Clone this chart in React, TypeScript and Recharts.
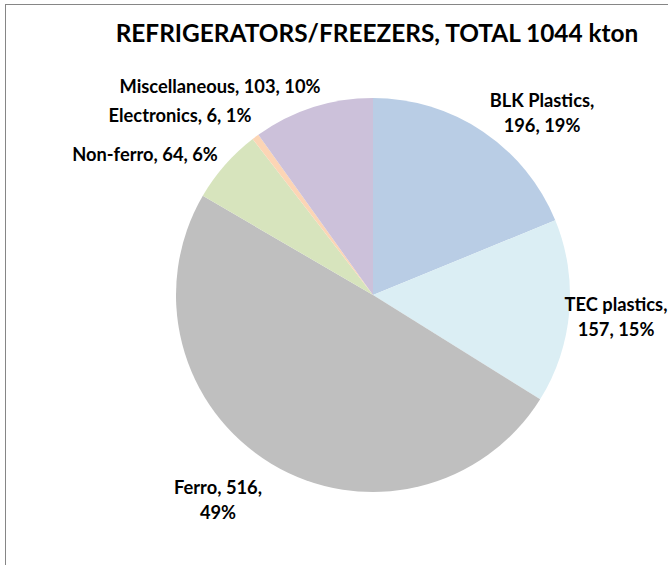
import { PieChart, Pie, Cell } from 'recharts';

const categories = ['BLK Plastics', 'TEC plastics', 'Ferro', 'Non-ferro', 'Electronics', 'Miscellaneous'];
const values = [196, 157, 516, 64, 6, 103];
const percents = ['19%', '15%', '49%', '6%', '1%', '10%'];
const colors = ['#b9cde5', '#dbeef4', '#bfbfbf', '#d7e4bd', '#fcd5b5', '#ccc1da'];

const data = categories.map((name, i) => ({ name, value: values[i], pct: percents[i] }));

// label placement relative to pie centre (Excel best-fit look)
const labelOffsets = [
  { dx: 169, dy: -183, split: true },
  { dx: 243, dy: 21, split: true },
  { dx: -155, dy: 204, split: true, ferro: true },
  { dx: -228, dy: -141, split: false },
  { dx: -193, dy: -180, split: false },
  { dx: -153, dy: -209, split: false },
];

const FONT = 'Lato, "Open Sans", sans-serif';

function renderLabel(props: any) {
  const { cx, cy, index } = props;
  const d = data[index];
  const o = labelOffsets[index];
  const x = cx + o.dx;
  const y = cy + o.dy;
  let lines: string[];
  if (!o.split) lines = [`${d.name}, ${d.value}, ${d.pct}`];
  else if (o.ferro) lines = [`${d.name}, ${d.value},`, d.pct];
  else lines = [`${d.name},`, `${d.value}, ${d.pct}`];
  const start = -(lines.length - 1) * 12.5;
  return (
    <text
      key={`lbl-${index}`}
      x={x}
      y={y}
      textAnchor="middle"
      dominantBaseline="central"
      fontFamily={FONT}
      fontWeight="bold"
      fontSize={18.3}
      fill="#000"
    >
      {lines.map((l, i) => (
        <tspan key={i} x={x} dy={i === 0 ? start : 25}>
          {l}
        </tspan>
      ))}
    </text>
  );
}

export default function App() {
  return (
    <div style={{ position: 'fixed', inset: 0, overflow: 'hidden', background: '#fff' }}>
      <div
        style={{
          position: 'absolute',
          left: 5,
          top: 4,
          width: 700,
          height: 600,
          border: '1px solid #868686',
          background: '#fff',
        }}
      >
        <div
          style={{
            position: 'absolute',
            left: 0,
            width: 742,
            top: 14,
            textAlign: 'center',
            fontFamily: FONT,
            fontWeight: 'bold',
            fontSize: 24.4,
            color: '#000',
            lineHeight: '28px',
          }}
        >
          REFRIGERATORS/FREEZERS, TOTAL 1044 kton
        </div>
        <PieChart width={700} height={600} style={{ position: 'absolute', left: 0, top: 0 }}>
          <Pie
            data={data}
            dataKey="value"
            nameKey="name"
            cx={362}
            cy={285}
            outerRadius={197}
            startAngle={90}
            endAngle={-270}
            stroke="none"
            label={renderLabel}
            labelLine={false}
            isAnimationActive={false}
          >
            {data.map((entry, index) => (
              <Cell key={`cell-${index}`} fill={colors[index]} />
            ))}
          </Pie>
        </PieChart>
      </div>
    </div>
  );
}
